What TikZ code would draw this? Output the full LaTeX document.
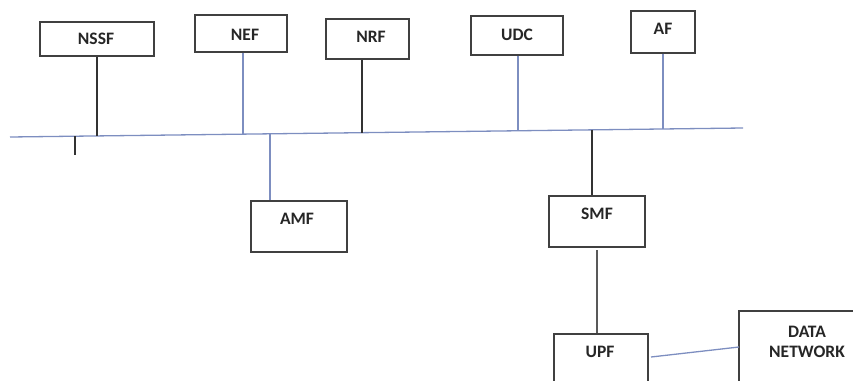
\documentclass[tikz,border=0pt]{standalone}
\usepackage{fontspec}
\setmainfont{Carlito}
\begin{document}
\begin{tikzpicture}[x=1pt,y=-1pt,
  nfbox/.style={draw=black!75, line width=1.4pt, rectangle, inner sep=0pt},
  nflabel/.style={font=\fontsize{17.5}{20}\selectfont\bfseries, text=black!85, inner sep=0pt, align=center},
  busline/.style={draw={rgb,255:red,125;green,142;blue,192}, line width=1.3pt},
  darkline/.style={draw=black!80, line width=1.3pt},
  greyline/.style={draw=black!65, line width=2pt}]
\useasboundingbox (0,0) rectangle (853,380);
\clip (0,0) rectangle (853,380);

% network function boxes (upper row)
\node[nfbox, minimum width=114pt, minimum height=34pt] (nssf) at (97,39) {};
\node[nflabel] (nssf-t) at (96,39) {NSSF};
\node[nfbox, minimum width=92pt, minimum height=37pt] (nef) at (241,33.5) {};
\node[nflabel] (nef-t) at (245,35) {NEF};
\node[nfbox, minimum width=83pt, minimum height=40pt] (nrf) at (367.5,39) {};
\node[nflabel] (nrf-t) at (371,37) {NRF};
\node[nfbox, minimum width=92pt, minimum height=39pt] (udc) at (517,35.5) {};
\node[nflabel] (udc-t) at (517,35) {UDC};
\node[nfbox, minimum width=64pt, minimum height=42pt] (af) at (663,32) {};
\node[nflabel] (af-t) at (663,29) {AF};

% lower boxes
\node[nfbox, minimum width=96pt, minimum height=51pt] (amf) at (299,226.5) {};
\node[nflabel] (amf-t) at (297,219) {AMF};
\node[nfbox, minimum width=96pt, minimum height=51pt] (smf) at (597,221.5) {};
\node[nflabel] (smf-t) at (597,214) {SMF};
\node[nfbox, minimum width=94pt, minimum height=66pt] (upf) at (601,367) {};
\node[nflabel] (upf-t) at (600,352) {UPF};
\node[nfbox, minimum width=131pt, minimum height=90pt] (dn) at (804.5,356) {};
\node[nflabel, align=center] (dn-t) at (807,342) {DATA\\NETWORK};

% service bus and its attachment points
\coordinate (busL) at (10,137);
\coordinate (busR) at (743,128);
\coordinate (p-tick) at (75,136.2);
\coordinate (tick-end) at (75,155);
\coordinate (p-nssf) at (97,135.9);
\coordinate (p-nef) at (243,134.1);
\coordinate (p-amf) at (270,133.8);
\coordinate (p-nrf) at (362,132.7);
\coordinate (p-udc) at (518,130.8);
\coordinate (p-smf) at (592,129.9);
\coordinate (p-af) at (663,129.0);
\coordinate (smf-down) at (597,250);
\coordinate (upf-out) at (651,357);
\coordinate (dn-in) at (739,347);

\draw[busline] (busL) -- (busR);

\draw[darkline] (p-nssf |- nssf.south) -- (p-nssf);
\draw[darkline] (p-tick) -- (tick-end);
\draw[busline] (p-nef |- nef.south) -- (p-nef);
\draw[busline] (p-amf) -- (p-amf |- amf.north);
\draw[darkline] (p-nrf |- nrf.south) -- (p-nrf);
\draw[busline] (p-udc |- udc.south) -- (p-udc);
\draw[busline] (p-af |- af.south) -- (p-af);
\draw[darkline] (p-smf) -- (p-smf |- smf.north);
\draw[greyline] (smf-down) -- (smf-down |- upf.north);
\draw[busline] (upf-out) -- (dn-in);
\end{tikzpicture}
\end{document}
